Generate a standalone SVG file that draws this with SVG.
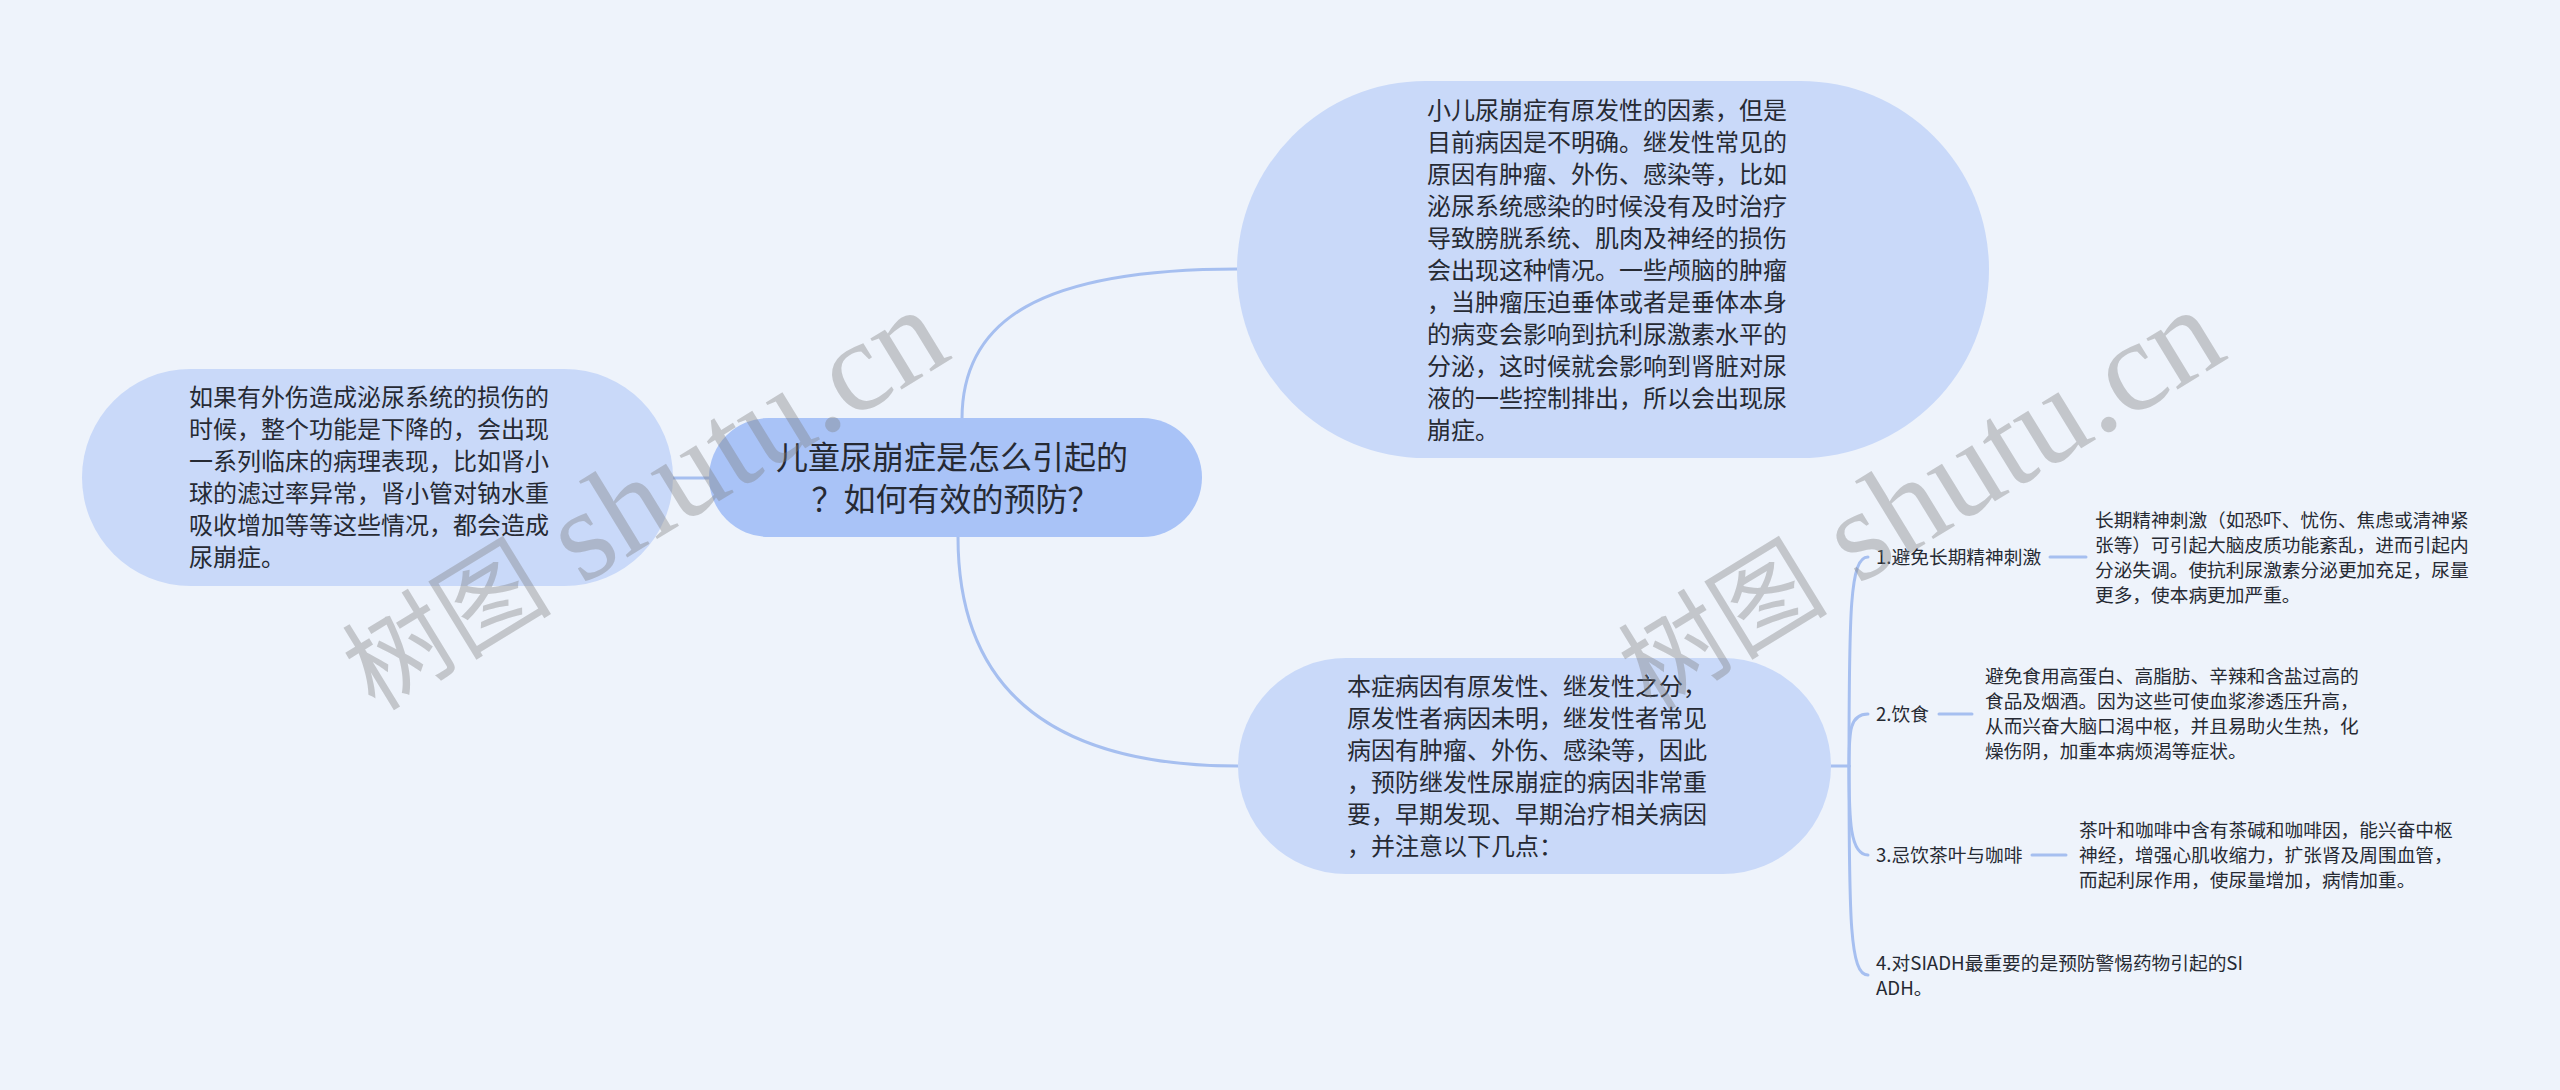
<svg xmlns="http://www.w3.org/2000/svg" width="2560" height="1090" viewBox="0 0 2560 1090">
<style>
.bg{fill:#eef3fb}
.sub{fill:#c9d9f9}
.root{fill:#a9c3f7}
.t{font-family:"Noto Sans CJK SC","Noto Sans",sans-serif;fill:#262a33}
.t24{font-size:24px}
.t32{font-size:32px}
.t19{font-size:18.7px}
.ln{fill:none;stroke:#a6bff0;stroke-width:3;stroke-linecap:round}
.wm{font-family:"Liberation Serif","Noto Sans CJK SC",serif;fill:#7d7d7d;fill-opacity:0.38}
</style>
<rect class="bg" x="0" y="0" width="2560" height="1090"/>
<g id="connectors">
<path class="ln" d="M673 478 H709"/>
<path class="ln" d="M962 419 C962 320 1040 269 1238 269"/>
<path class="ln" d="M958 537 C958 680 1040 766 1238 766"/>
<path class="ln" d="M1831 766 H1849"/>
<path class="ln" d="M1849 766 C1849 610 1850 557 1868 557"/>
<path class="ln" d="M1849 766 C1849 730 1850 714 1868 714"/>
<path class="ln" d="M1849 766 C1849 820 1850 855 1868 855"/>
<path class="ln" d="M1849 766 C1849 920 1850 975 1868 975"/>
<path class="ln" d="M2050 557 H2086"/>
<path class="ln" d="M1939 714 H1972"/>
<path class="ln" d="M2032 855 H2066"/>
</g>
<g id="node-left">
<rect class="sub" x="82" y="369" width="591" height="217" rx="108.5"/>
<text class="t t24" x="189">
<tspan x="189" y="406">如果有外伤造成泌尿系统的损伤的</tspan>
<tspan x="189" y="438">时候，整个功能是下降的，会出现</tspan>
<tspan x="189" y="470">一系列临床的病理表现，比如肾小</tspan>
<tspan x="189" y="502">球的滤过率异常，肾小管对钠水重</tspan>
<tspan x="189" y="534">吸收增加等等这些情况，都会造成</tspan>
<tspan x="189" y="566">尿崩症。</tspan>
</text>
</g>
<g id="node-root">
<rect class="root" x="709" y="418" width="493" height="119" rx="59.5"/>
<text class="t t32" text-anchor="middle">
<tspan x="955.5" y="469">儿童尿崩症是怎么引起的</tspan>
<tspan x="955.5" y="511">？如何有效的预防？</tspan>
</text>
</g>
<g id="node-top">
<rect class="sub" x="1237" y="81" width="752" height="377" rx="188.5"/>
<text class="t t24">
<tspan x="1427" y="118.5">小儿尿崩症有原发性的因素，但是</tspan>
<tspan x="1427" y="150.5">目前病因是不明确。继发性常见的</tspan>
<tspan x="1427" y="182.5">原因有肿瘤、外伤、感染等，比如</tspan>
<tspan x="1427" y="214.5">泌尿系统感染的时候没有及时治疗</tspan>
<tspan x="1427" y="246.5">导致膀胱系统、肌肉及神经的损伤</tspan>
<tspan x="1427" y="278.5">会出现这种情况。一些颅脑的肿瘤</tspan>
<tspan x="1427" y="310.5">，当肿瘤压迫垂体或者是垂体本身</tspan>
<tspan x="1427" y="342.5">的病变会影响到抗利尿激素水平的</tspan>
<tspan x="1427" y="374.5">分泌，这时候就会影响到肾脏对尿</tspan>
<tspan x="1427" y="406.5">液的一些控制排出，所以会出现尿</tspan>
<tspan x="1427" y="438.5">崩症。</tspan>
</text>
</g>
<g id="node-bottom">
<rect class="sub" x="1238" y="658" width="593" height="216" rx="108"/>
<text class="t t24">
<tspan x="1347" y="694.5">本症病因有原发性、继发性之分，</tspan>
<tspan x="1347" y="726.5">原发性者病因未明，继发性者常见</tspan>
<tspan x="1347" y="758.5">病因有肿瘤、外伤、感染等，因此</tspan>
<tspan x="1347" y="790.5">，预防继发性尿崩症的病因非常重</tspan>
<tspan x="1347" y="822.5">要，早期发现、早期治疗相关病因</tspan>
<tspan x="1347" y="854.5">，并注意以下几点：</tspan>
</text>
</g>
<g id="node-1">
<text class="t t19" x="1876" y="563.6">1.避免长期精神刺激</text>
</g>
<g id="node-1-detail">
<text class="t t19">
<tspan x="2095" y="526.6">长期精神刺激（如恐吓、忧伤、焦虑或清神紧</tspan>
<tspan x="2095" y="551.6">张等）可引起大脑皮质功能紊乱，进而引起内</tspan>
<tspan x="2095" y="576.6">分泌失调。使抗利尿激素分泌更加充足，尿量</tspan>
<tspan x="2095" y="601.6">更多，使本病更加严重。</tspan>
</text>
</g>
<g id="node-2">
<text class="t t19" x="1876" y="720.6">2.饮食</text>
</g>
<g id="node-2-detail">
<text class="t t19">
<tspan x="1985" y="683.1">避免食用高蛋白、高脂肪、辛辣和含盐过高的</tspan>
<tspan x="1985" y="708.1">食品及烟酒。因为这些可使血浆渗透压升高，</tspan>
<tspan x="1985" y="733.1">从而兴奋大脑口渴中枢，并且易助火生热，化</tspan>
<tspan x="1985" y="758.1">燥伤阴，加重本病烦渴等症状。</tspan>
</text>
</g>
<g id="node-3">
<text class="t t19" x="1876" y="861.6">3.忌饮茶叶与咖啡</text>
</g>
<g id="node-3-detail">
<text class="t t19">
<tspan x="2079" y="836.6">茶叶和咖啡中含有茶碱和咖啡因，能兴奋中枢</tspan>
<tspan x="2079" y="861.6">神经，增强心肌收缩力，扩张肾及周围血管，</tspan>
<tspan x="2079" y="886.6">而起利尿作用，使尿量增加，病情加重。</tspan>
</text>
</g>
<g id="node-4">
<text class="t t19">
<tspan x="1876" y="969.6">4.对SIADH最重要的是预防警惕药物引起的SI</tspan>
<tspan x="1876" y="994.6">ADH。</tspan>
</text>
</g>
<g id="watermarks">
<text class="wm" transform="translate(375 712) rotate(-31.5)"><tspan font-size="105">树图</tspan><tspan font-size="130"> shutu.cn</tspan></text>
<text class="wm" transform="translate(1651 712) rotate(-31.5)"><tspan font-size="105">树图</tspan><tspan font-size="130"> shutu.cn</tspan></text>
</g>
</svg>
